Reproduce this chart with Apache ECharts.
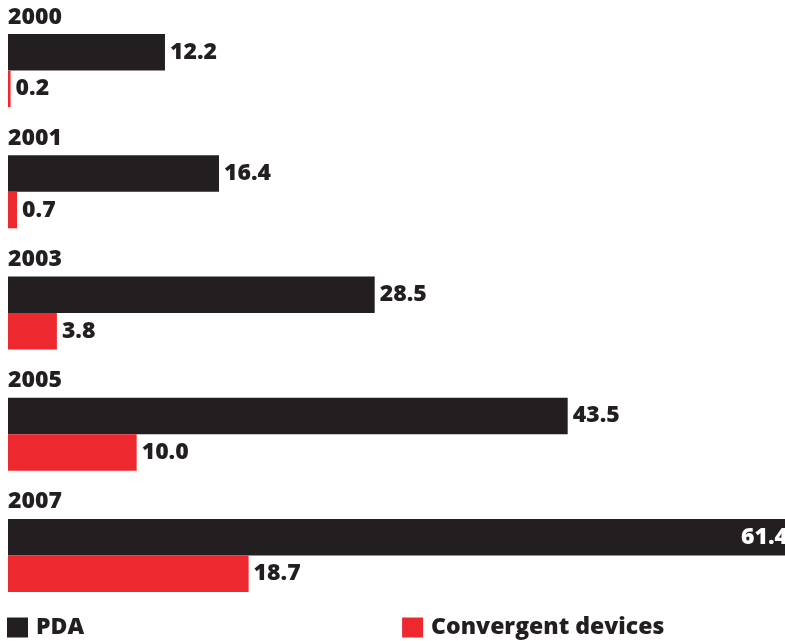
<!DOCTYPE html>
<html>
<head>
<meta charset="utf-8">
<script src="https://cdn.jsdelivr.net/npm/echarts@6/dist/echarts.min.js"></script>
<style>
  html, body { margin: 0; padding: 0; background: #fff; }
  #chart { width: 785px; height: 641px; }
</style>
</head>
<body>
<div id="chart"></div>
<script>
// Years shown as group headings
const years = ['2000', '2001', '2003', '2005', '2007'];
// Shipments per year
const pda = [12.2, 16.4, 28.5, 43.5, 61.4];
const convergent = [0.2, 0.7, 3.8, 10.0, 18.7];
const seriesNames = ['PDA', 'Convergent devices'];

const DARK = '#231f20';
const RED = '#ed282e';
const FONT = '"Open Sans", Lato, Roboto, sans-serif';

const valueLabel = {
  show: true,
  position: 'right',
  distance: 5,
  color: DARK,
  fontFamily: FONT,
  fontWeight: 800,
  fontSize: 23,
  formatter: p => p.value.toFixed(1)
};

const maxPda = Math.max(...pda);
const pdaData = pda.map(v => v === maxPda
  ? { value: v, label: { position: 'insideRight', color: '#fff', distance: 10 } }
  : v);

const chart = echarts.init(document.getElementById('chart'));
chart.setOption({
  animation: false,
  legend: {
    left: 7,
    top: 616,
    padding: 0,
    itemWidth: 21,
    itemHeight: 20,
    itemGap: 318,
    icon: 'rect',
    textStyle: {
      color: DARK,
      fontFamily: FONT,
      fontWeight: 800,
      fontSize: 23,
      padding: [0, 0, 0, 3]
    },
    data: seriesNames
  },
  // the longest bar runs past the right edge of the page
  grid: { left: 8, width: 790, top: 10, height: 606, containLabel: false, outerBoundsMode: 'none' },
  xAxis: {
    type: 'value',
    min: 0,
    max: maxPda,
    show: false
  },
  yAxis: {
    type: 'category',
    data: years,
    inverse: true,
    z: 10,
    axisLine: { show: false },
    axisTick: { show: false },
    axisLabel: {
      inside: true,
      margin: 0,
      align: 'left',
      verticalAlign: 'middle',
      formatter: v => '{y|' + v + '}\n{gap|}',
      rich: {
        y: {
          color: DARK,
          fontFamily: FONT,
          fontWeight: 800,
          fontSize: 23,
          lineHeight: 28
        },
        gap: { lineHeight: 107 }
      }
    }
  },
  series: [
    {
      name: seriesNames[0],
      type: 'bar',
      data: pdaData,
      barWidth: 36.5,
      barGap: '0%',
      itemStyle: { color: DARK },
      label: valueLabel
    },
    {
      name: seriesNames[1],
      type: 'bar',
      data: convergent,
      barWidth: 36.5,
      barGap: '0%',
      itemStyle: { color: RED },
      label: valueLabel
    }
  ]
});
</script>
</body>
</html>
